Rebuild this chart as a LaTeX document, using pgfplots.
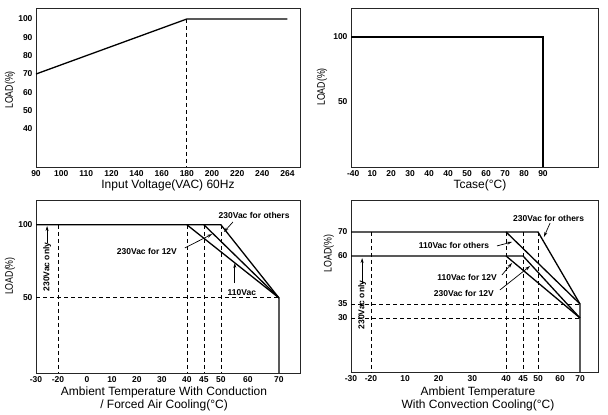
\documentclass[border=0pt]{standalone}
\usepackage{fontspec}
\setmainfont{Liberation Sans}
\usepackage{pgfplots}
\pgfplotsset{compat=1.18}
\usetikzlibrary{arrows.meta}

\pgfplotsset{
  derate/.style={
    scale only axis,
    clip=false,
    axis line style={line width=0.9pt, black!85},
    major tick length=0pt,
    tick label style={font=\bfseries\fontsize{8.5}{9}\selectfont},
    /pgf/number format/assume math mode=true,
    label style={font=\fontsize{12}{13}\selectfont, align=center},
    ylabel={\fontsize{11}{12}\selectfont\scalebox{0.8}[1]{LOAD(\%)}},
  },
  curve/.style={black, line width=1.3pt, no marks},
  guide/.style={black, line width=0.8pt, dash pattern=on 4pt off 3pt, no marks},
}
\tikzset{
  note/.style={font=\bfseries\fontsize{8.5}{9}\selectfont, inner sep=0pt},
  pointer/.style={-{Stealth[length=5pt,width=3pt]}, line width=0.7pt},
}

\begin{document}
\begin{tikzpicture}
\useasboundingbox (0,0) rectangle (608pt,415pt);

% input voltage derating
\begin{axis}[derate,
    at={(36pt,248pt)}, anchor=south west,
    width=264pt, height=159pt,
    x coord trafo/.code={\pgfmathparse{((#1)<=120) ? (((#1)-90)/10) : (((#1)<=240) ? (3+((#1)-120)/20) : (9+((#1)-240)/24))}},
    xmin=90, xmax=276, ymin=19.3, ymax=106,
    xtick={90,100,110,120,140,160,180,200,220,240,264},
    xticklabels={90,100,110,120,140,160,180,200,220,240,264},
    ytick={40,50,60,70,80,90,100},
    xlabel={Input Voltage(VAC) 60Hz},
    xlabel style={at={(axis description cs:0.5,-0.113)}, anchor=center},
    ylabel style={at={(axis description cs:-0.098,0.484)}, anchor=center},
]
\addplot[guide] coordinates {(180,100) (180,19.3)};
\addplot[curve] coordinates {(90,70) (180,100) (264,100)};
\end{axis}

% case temperature
\begin{axis}[derate,
    at={(351pt,248pt)}, anchor=south west,
    width=247pt, height=159pt,
    xmin=-0.12, xmax=12.9, ymin=0, ymax=122.3,
    xtick={0,...,10},
    xticklabels={-40,10,20,30,40,40,50,60,70,80,90},
    ytick={50,100},
    xlabel={Tcase(°C)},
    xlabel style={at={(axis description cs:0.522,-0.113)}, anchor=center},
    ylabel style={at={(axis description cs:-0.117,0.503)}, anchor=center},
]
\addplot[curve] coordinates {(-0.12,100) (10,100) (10,0)};
\end{axis}

% conduction / forced air
\begin{axis}[derate,
    at={(36pt,42pt)}, anchor=south west,
    width=264pt, height=173pt,
    x coord trafo/.code={\pgfmathparse{((#1)<=(-20)) ? (36+((#1)+30)*2.2) : (((#1)<=0) ? (58+((#1)+20)*1.45) : (((#1)<=40) ? (87+(#1)*2.5) : (((#1)<=50) ? (187+((#1)-40)*3.4) : (((#1)<=60) ? (221+((#1)-50)*2.7) : (248+((#1)-60)*3.1)))))}},
    xmin=-30, xmax=76.8, ymin=-1.4, ymax=117,
    xtick={-30,-20,0,10,20,30,40,45,50,60,70},
    xticklabels={-30,-20,0,10,20,30,40,45,50,60,70},
    ytick={50,100},
    xlabel={Ambient Temperature With Conduction\\/ Forced Air Cooling(°C)},
    xlabel style={at={(axis description cs:0.485,-0.15)}, anchor=center},
    ylabel style={at={(axis description cs:-0.098,0.56)}, anchor=center},
]
\addplot[guide] coordinates {(-20,100) (-20,-1.4)};
\addplot[guide] coordinates {(40,100) (40,-1.4)};
\addplot[guide] coordinates {(45,100) (45,-1.4)};
\addplot[guide] coordinates {(50,100) (50,-1.4)};
\addplot[guide] coordinates {(-30,50) (70,50)};
\addplot[curve] coordinates {(-30,100) (50,100) (70,50) (70,-1.4)};
\addplot[curve] coordinates {(40,100) (70,50)};
\addplot[curve] coordinates {(45,100) (70,50)};
\node[note] at (rel axis cs:0.826,0.913) {230Vac for others};
\draw[pointer] (rel axis cs:0.746,0.873) -- (rel axis cs:0.712,0.815);
\node[note] at (rel axis cs:0.42,0.70) {230Vac for 12V};
\draw[pointer] (rel axis cs:0.564,0.723) -- (rel axis cs:0.667,0.803);
\node[note] at (rel axis cs:0.78,0.462) {110Vac};
\draw[pointer] (rel axis cs:0.753,0.52) -- (rel axis cs:0.753,0.636);
\node[note, rotate=90] at (rel axis cs:0.042,0.613) {230Vac only};
\draw[pointer] (rel axis cs:0.042,0.751) -- (rel axis cs:0.042,0.85);
\end{axis}

% convection cooling
\begin{axis}[derate,
    at={(351pt,43pt)}, anchor=south west,
    width=247pt, height=172pt,
    x coord trafo/.code={\pgfmathparse{((#1)<=(-20)) ? (351+((#1)+30)*2) : (((#1)<=10) ? (371+((#1)+20)*1.1333) : (((#1)<=40) ? (405+((#1)-10)*3.3667) : (((#1)<=45) ? (506+((#1)-40)*3.4) : (((#1)<=50) ? (523+((#1)-45)*3) : (((#1)<=60) ? (538+((#1)-50)*2.2) : (560+((#1)-60)*2))))))}},
    y coord trafo/.code={\pgfmathparse{((#1)<=30) ? (-(318+(30-(#1))*1.8)) : (((#1)<=35) ? (-(318-((#1)-30)*2.8)) : (((#1)<=60) ? (-(304-((#1)-35)*1.92)) : (-(256-((#1)-60)*2.4))))}},
    xmin=-30, xmax=79, ymin=0, ymax=83.3,
    xtick={-30,-20,10,20,30,40,45,50,60,70},
    xticklabels={-30,-20,10,20,30,40,45,50,60,70},
    ytick={30,35,60,70},
    yticklabels={30,35,60,70},
    xlabel={Ambient Temperature\\With Convection Cooling(°C)},
    xlabel style={at={(axis description cs:0.514,-0.157)}, anchor=center},
    ylabel style={at={(axis description cs:-0.09,0.69)}, anchor=center},
]
\addplot[guide] coordinates {(-20,70) (-20,0)};
\addplot[guide] coordinates {(40,70) (40,0)};
\addplot[guide] coordinates {(45,70) (45,0)};
\addplot[guide] coordinates {(50,70) (50,0)};
\addplot[guide] coordinates {(-30,35) (70,35)};
\addplot[guide] coordinates {(-30,30) (70,30)};
\addplot[curve] coordinates {(-30,70) (50,70) (70,35) (70,0)};
\addplot[curve] coordinates {(40,70) (70,35)};
\addplot[curve] coordinates {(-30,60) (45,60) (70,30)};
\addplot[curve] coordinates {(40,60) (70,30)};
\node[note] at (rel axis cs:0.80,0.89) {230Vac for others};
\draw[pointer] (rel axis cs:0.806,0.866) -- (rel axis cs:0.781,0.785);
\node[note] at (rel axis cs:0.417,0.733) {110Vac for others};
\draw[pointer] (rel axis cs:0.591,0.733) -- (rel axis cs:0.652,0.756);
\node[note] at (rel axis cs:0.47,0.552) {110Vac for 12V};
\draw[pointer] (rel axis cs:0.611,0.564) -- (rel axis cs:0.652,0.634);
\node[note] at (rel axis cs:0.457,0.459) {230Vac for 12V};
\draw[pointer] (rel axis cs:0.603,0.477) -- (rel axis cs:0.725,0.616);
\node[note, rotate=90] at (rel axis cs:0.045,0.39) {230Vac only};
\draw[pointer] (rel axis cs:0.045,0.512) -- (rel axis cs:0.045,0.663);
\end{axis}
\end{tikzpicture}
\end{document}
